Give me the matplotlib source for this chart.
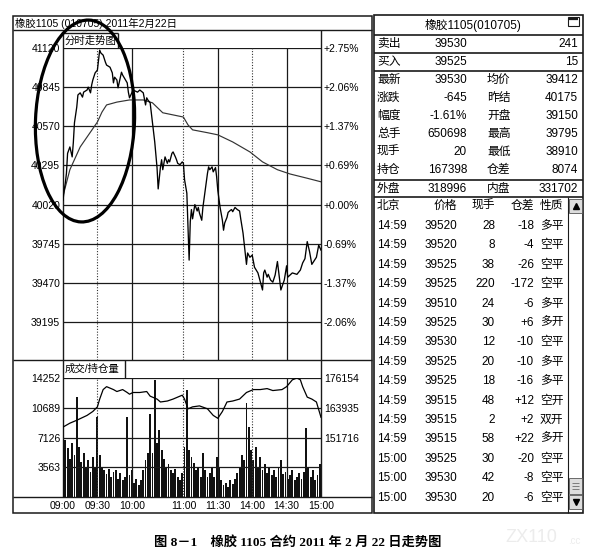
import numpy as np
import matplotlib
matplotlib.use("Agg")
import matplotlib.pyplot as plt
from matplotlib.patches import Ellipse, Rectangle

plt.rcParams['font.family'] = ['Liberation Sans', 'Noto Sans CJK SC']
plt.rcParams['font.size'] = 8

W, H = 612, 555
INK = '#1a1a1a'

# ---- intraday price: trading minute since 09:00 (session 225 min) ----
price_min = [0, 1, 2, 3, 4, 6, 8, 9, 10, 12, 13, 15, 17, 18, 21, 22, 24, 25, 26, 28,
             30, 31, 32, 33, 35, 37, 38, 41, 43, 44, 45, 47, 48, 50, 51, 52, 56, 57, 58, 60,
             61, 65, 67, 70, 72, 73, 74, 76, 78, 80, 82, 83, 85, 86, 87, 89, 91, 92, 93, 95,
             96, 98, 99, 100, 102, 104, 105, 106, 108, 109, 110, 111, 112, 113, 115, 117, 118, 119, 121, 122,
             124, 126, 127, 128, 130, 131, 133, 134, 135, 137, 139, 140, 141, 143, 144, 146, 147, 148, 150, 152,
             154, 155, 157, 160, 161, 163, 165, 167, 170, 174, 175, 176, 178, 179, 181, 183, 185, 187, 189, 190,
             193, 195, 196, 198, 200, 204, 207, 209, 211, 213, 215, 217, 221, 223, 225]
price_val = [40050, 40120, 40170, 40240, 40380, 40425, 40355, 40455, 40595, 40705, 40790, 40805, 40775, 40810, 40825, 40845, 40805, 40860, 40895, 40945,
             40965, 41035, 41105, 41085, 41070, 41020, 41000, 40985, 40945, 40875, 40915, 40895, 40840, 40915, 40950, 40930, 40875, 40810, 40770, 40805,
             40825, 40810, 40825, 40805, 40720, 40770, 40755, 40735, 40600, 40460, 40280, 40130, 40285, 40335, 40265, 40355, 40310, 40335, 40320, 40380,
             40390, 40355, 40335, 40310, 40300, 40320, 40310, 40195, 40100, 39860, 39630, 39900, 39985, 39920, 40020, 39975, 40000, 39960, 39910, 40000,
             40120, 40240, 40285, 40265, 40285, 40250, 40280, 40215, 40120, 40000, 39910, 39840, 39890, 39930, 39965, 39980, 39985, 39970, 40000, 39985,
             39975, 39920, 39820, 39600, 39680, 39650, 39665, 39580, 39540, 39420, 39540, 39560, 39510, 39530, 39490, 39475, 39525, 39620, 39490, 39420,
             39490, 39590, 39510, 39525, 39540, 39530, 39560, 39610, 39640, 39760, 39690, 39600, 39650, 39735, 39700]

avg_min = [0, 6, 15, 24, 30, 34, 38, 47, 58, 70, 78, 87, 96, 105, 109, 113, 126, 135, 148, 163, 174, 187, 198, 213, 225]
avg_val = [40080, 40265, 40425, 40530, 40600, 40670, 40720, 40740, 40755, 40755, 40735, 40665, 40650, 40635, 40580, 40545,
           40525, 40510, 40460, 40390, 40320, 40265, 40235, 40205, 40180]

# ---- open interest (right scale of lower panel) ----
oi_min = [0, 6, 12, 21, 26, 30, 32, 35, 38, 44, 47, 52, 56, 58, 61, 67, 73, 76, 82, 85,
          91, 96, 104, 106, 109, 113, 119, 126, 131, 135, 139, 143, 148, 154, 160, 166, 172, 178, 183, 191,
          195, 200, 204, 207, 209, 213, 217, 221, 225]
oi_val = [156000, 157600, 158800, 160800, 162400, 164300, 167500, 171400, 172600, 171400, 170600, 171400, 170200, 169500, 170200, 170200, 170600, 168700, 167500, 166300,
          166700, 167500, 169100, 167500, 163500, 164300, 164700, 163500, 160800, 159600, 162400, 166300, 166700, 167500, 170200, 171400, 171400, 171800, 171000, 171400,
          172600, 175400, 176150, 175400, 172600, 168300, 167500, 166300, 160000]

# ---- traded volume, one bar per two minutes ----
vol_val = [9200, 6800, 5900, 4500, 6500, 5000, 12000, 6000, 4200, 5300,
           3500, 4400, 3000, 4800, 3600, 9600, 5000, 3600, 3200, 2800,
           3400, 2400, 3000, 3200, 2200, 2900, 2000, 2400, 9600, 2600,
           3200, 1700, 2200, 1400, 2000, 3200, 4400, 5300, 10000, 5300,
           14000, 6500, 8000, 5600, 4600, 3600, 4000, 3200, 2900, 3400,
           2400, 2000, 2900, 6000, 12800, 5600, 4800, 4100, 3200, 3600,
           2400, 5300, 3200, 2400, 2900, 3600, 2400, 4800, 3600, 2000,
           1400, 1700, 1200, 2000, 1600, 2200, 2900, 3600, 5000, 4400,
           11300, 8400, 5600, 4400, 6000, 3600, 4800, 3200, 4000, 2900,
           3600, 2600, 3200, 2400, 3600, 4400, 2800, 3000, 2200, 2600,
           3200, 2000, 2400, 2900, 2200, 3000, 8300, 3600, 2400, 3200,
           2000, 2600, 4000]
vol_min = np.arange(len(vol_val)) * 2

price_ticks = [41120, 40845, 40570, 40295, 40020, 39745, 39470, 39195]
pct_labels = ['+2.75%', '+2.06%', '+1.37%', '+0.69%', '+0.00%', '-0.69%', '-1.37%', '-2.06%']
vol_ticks = [14252, 10689, 7126, 3563]
oi_ticks = [176154, 163935, 151716]
time_pos = [0, 30, 60, 105, 135, 165, 195, 225]
time_labels = ['09:00', '09:30', '10:00', '11:00', '11:30', '14:00', '14:30', '15:00']
dotted_min = [30, 105, 165]
solid_min = [60, 135, 195]

# ---- quote panel ----
title_left = '橡胶1105 (010705) 2011年2月22日'
title_right = '橡胶1105(010705)'
ask = ['卖出', '39530', '241']
bid = ['买入', '39525', '15']
quote_left = [('最新', '39530'), ('涨跌', '-645'), ('幅度', '-1.61%'),
              ('总手', '650698'), ('现手', '20'), ('持仓', '167398')]
quote_right = [('均价', '39412'), ('昨结', '40175'), ('开盘', '39150'),
               ('最高', '39795'), ('最低', '38910'), ('仓差', '8074')]
outer = [('外盘', '318996'), ('内盘', '331702')]

trade_head = ['北京', '价格', '现手', '仓差', '性质']
trade_time = ['14:59'] * 12 + ['15:00'] * 3
trade_price = [39520, 39520, 39525, 39525, 39510, 39525, 39530, 39525, 39525, 39515, 39515, 39515, 39525, 39530, 39530]
trade_vol = [28, 8, 38, 220, 24, 30, 12, 20, 18, 48, 2, 58, 30, 42, 20]
trade_oi = ['-18', '-4', '-26', '-172', '-6', '+6', '-10', '-10', '-16', '+12', '+2', '+22', '-20', '-8', '-6']
trade_type = ['多平', '空平', '空平', '空平', '多平', '多开', '空平', '多平', '多平', '空开', '双开', '多开', '空平', '空平', '空平']

caption = '图 8－1　橡胶 1105 合约 2011 年 2 月 22 日走势图'


fig = plt.figure(figsize=(W / 100, H / 100), dpi=100)
fig.patch.set_facecolor('white')


def px_axes(x0, y0, x1, y1):
    a = fig.add_axes([x0 / W, 1 - y1 / H, (x1 - x0) / W, (y1 - y0) / H])
    a.patch.set_visible(False)
    for s in a.spines.values():
        s.set_visible(False)
    return a


# background canvas in pixel units (y down)
bg = fig.add_axes([0, 0, 1, 1])
bg.set_xlim(0, W)
bg.set_ylim(H, 0)
bg.axis('off')


def hline(y, x0, x1, lw=1.0, c=INK):
    bg.plot([x0, x1], [y, y], color=c, lw=lw, solid_capstyle='butt')


def vline(x, y0, y1, lw=1.0, c=INK):
    bg.plot([x, x], [y0, y1], color=c, lw=lw, solid_capstyle='butt')


# left frame
bg.add_patch(Rectangle((13, 16), 359, 497, fill=False, lw=1.1, ec=INK))
hline(30, 13, 372)
bg.text(15, 23.5, title_left, va='center', fontsize=7.5)
hline(33, 63, 118)
vline(118, 33, 48)
vline(63, 33, 497)
vline(321, 30, 497)
bg.text(65, 40.5, '分时走势图', va='center', fontsize=7.5)
hline(360, 13, 372)
vline(125, 360, 378)
bg.text(65, 369, '成交/持仓量', va='center', fontsize=7.5)
hline(497, 13, 372)

# price panel
ax = px_axes(63, 48, 321, 360)
step = price_ticks[0] - price_ticks[1]
price_lo = price_ticks[-1] - 0.97 * step
ax.set_xlim(0, 225)
ax.set_ylim(price_lo, price_ticks[0])
ax.set_yticks(price_ticks)
ax.set_xticks([])
ax.tick_params(axis='y', length=0, pad=2, labelsize=7.5)
ax.grid(axis='y', color=INK, lw=0.9)
for m in dotted_min:
    ax.axvline(m, color='#333333', lw=0.8, ls=(0, (1, 1.5)))
for m in solid_min:
    ax.axvline(m, color=INK, lw=0.9)
ax.plot(avg_min, avg_val, color='#333333', lw=0.85)
ax.plot(price_min, price_val, color='black', lw=0.95)

ax2 = ax.twinx()
ax2.set_ylim(price_lo, price_ticks[0])
ax2.set_yticks(price_ticks, pct_labels)
ax2.tick_params(axis='y', length=0, pad=2, labelsize=7.5)
for s in ax2.spines.values():
    s.set_visible(False)

# volume / open interest panel
vax = px_axes(63, 378, 321, 497)
vax.set_xlim(0, 225)
vax.set_ylim(0, vol_ticks[0])
vax.set_yticks(vol_ticks)
vax.set_xticks(time_pos, time_labels)
vax.tick_params(axis='y', length=0, pad=2, labelsize=7.5)
vax.tick_params(axis='x', length=0, pad=3, labelsize=7.5)
vax.grid(axis='y', color=INK, lw=0.9)
for m in dotted_min:
    vax.axvline(m, color='#333333', lw=0.8, ls=(0, (1, 1.5)))
for m in solid_min:
    vax.axvline(m, color=INK, lw=0.9)
vax.bar(vol_min, vol_val, width=1.6, color='#111111', lw=0)

oax = vax.twinx()
oi_scale = (oi_ticks[0] - oi_ticks[1]) / (vol_ticks[0] - vol_ticks[1])
oax.set_ylim(oi_ticks[0] - vol_ticks[0] * oi_scale, oi_ticks[0])
oax.set_yticks(oi_ticks)
oax.tick_params(axis='y', length=0, pad=2, labelsize=7.5)
for s in oax.spines.values():
    s.set_visible(False)
oax.plot(oi_min, oi_val, color='black', lw=0.9)

# quote table
TX0, TX1 = 374, 583
bg.add_patch(Rectangle((TX0, 15), TX1 - TX0, 498, fill=False, lw=1.2, ec=INK))
bg.text(473, 25, title_right, ha='center', va='center', fontsize=8.5)
bg.add_patch(Rectangle((568, 16.5), 11, 9, fill=False, lw=0.8, ec=INK))
hline(19, 569, 578, lw=1.6)
hline(35, TX0, TX1, lw=1.2)
fs = 8.5
c1, c2, c3, c4 = 377, 467, 487, 578
for row, y in ((ask, 44), (bid, 62)):
    bg.text(c1, y, row[0], va='center', fontsize=fs)
    bg.text(c2, y, row[1], va='center', ha='right', fontsize=fs)
    bg.text(c4, y, row[2], va='center', ha='right', fontsize=fs)
hline(53, TX0, TX1, lw=1.2)
hline(71, TX0, TX1, lw=1.2)
for i, ((la, va), (lb, vb)) in enumerate(zip(quote_left, quote_right)):
    y = 80 + 18 * i
    bg.text(c1, y, la, va='center', fontsize=fs)
    bg.text(c2, y, va, va='center', ha='right', fontsize=fs)
    bg.text(c3, y, lb, va='center', fontsize=fs)
    bg.text(c4, y, vb, va='center', ha='right', fontsize=fs)
hline(180, TX0, TX1, lw=1.2)
bg.text(c1, 189, outer[0][0], va='center', fontsize=fs)
bg.text(c2, 189, outer[0][1], va='center', ha='right', fontsize=fs)
bg.text(c3, 189, outer[1][0], va='center', fontsize=fs)
bg.text(c4, 189, outer[1][1], va='center', ha='right', fontsize=fs)
hline(197, TX0, TX1, lw=1.2)

# trade list
cols = [(377, 'left'), (457, 'right'), (495, 'right'), (534, 'right'), (540, 'left')]
for (x, ha), t in zip(cols, trade_head):
    bg.text(x, 206, t, va='center', ha=ha, fontsize=fs)
for i in range(len(trade_time)):
    y = 226 + 19.4 * i
    vals = [trade_time[i], str(trade_price[i]), str(trade_vol[i]), trade_oi[i], trade_type[i]]
    for (x, ha), t in zip(cols, vals):
        bg.text(x, y, t, va='center', ha=ha, fontsize=fs)

# scroll bar
vline(568, 197, 513, lw=0.8)
bg.add_patch(Rectangle((569, 199), 13, 14, fc='#dddddd', ec='#555555', lw=0.6))
bg.plot(575.5, 206, marker='^', ms=4, color='black')
bg.add_patch(Rectangle((569, 478), 13, 16, fc='#dddddd', ec='#555555', lw=0.6))
for yy in (483, 486, 489):
    hline(yy, 572, 579, lw=0.5, c='#555555')
bg.add_patch(Rectangle((569, 495), 13, 14, fc='#dddddd', ec='#555555', lw=0.6))
bg.plot(575.5, 502, marker='v', ms=4, color='black')

# caption and faint watermark
bg.text(298, 542, caption, ha='center', va='center', fontsize=9.5, fontweight='bold',
        family=['Liberation Serif', 'Noto Sans CJK SC'])
bg.text(505, 538, 'ZX110', ha='left', va='center', fontsize=13, color='#ececec')
bg.text(568, 541, '.cc', ha='left', va='center', fontsize=7, color='#ececec')

# hand-drawn ellipse around the morning rally
ov = fig.add_axes([0, 0, 1, 1])
ov.set_xlim(0, W)
ov.set_ylim(H, 0)
ov.axis('off')
ov.patch.set_visible(False)
ov.add_patch(Ellipse((85, 121), 99, 202, angle=2.3, fill=False, lw=2.3, ec='black'))

fig.savefig('out.png', dpi=100, facecolor='white')
